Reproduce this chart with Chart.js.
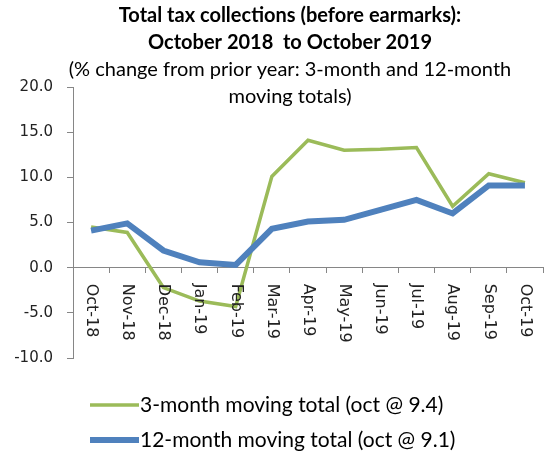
<!DOCTYPE html>
<html>
<head>
<meta charset="utf-8">
<script src="https://cdn.jsdelivr.net/npm/chart.js@4"></script>
<style>
  html, body { margin: 0; padding: 0; background: #fff; }
  #wrap { width: 548px; height: 458px; position: relative; }
</style>
</head>
<body>
<div id="wrap"><canvas id="taxChart"></canvas></div>
<script>
const months = ['Oct-18', 'Nov-18', 'Dec-18', 'Jan-19', 'Feb-19', 'Mar-19', 'Apr-19',
                'May-19', 'Jun-19', 'Jul-19', 'Aug-19', 'Sep-19', 'Oct-19'];
const threeMonth = [4.5, 3.9, -2.2, -3.7, -4.3, 10.1, 14.1, 13.0, 13.1, 13.3, 6.8, 10.4, 9.4];
const twelveMonth = [4.1, 4.9, 1.9, 0.6, 0.3, 4.3, 5.1, 5.3, 6.4, 7.5, 6.0, 9.1, 9.1];
const seriesNames = ['3-month moving total (oct @ 9.4)', '12-month moving total (oct @ 9.1)'];
const titleLines = ['Total tax collections (before earmarks):', 'October 2018  to October 2019'];
const subtitleLines = ['(% change from prior year: 3-month and 12-month', 'moving totals)'];

const TEXT_FONT = 'Lato, "Open Sans", sans-serif';
const AXIS_FONT = '"DejaVu Sans", Verdana, sans-serif';
const AXIS_GREY = '#868686';

// titles, month labels (reading downward) and the legend are painted by hand
const extras = {
  id: 'extras',
  afterDraw(chart) {
    const ctx = chart.ctx;
    const xs = chart.scales.x, ys = chart.scales.y;
    ctx.save();
    ctx.fillStyle = '#000';
    ctx.textAlign = 'center';
    ctx.textBaseline = 'middle';
    ctx.font = 'bold 20px ' + TEXT_FONT;
    titleLines.forEach((t, i) => ctx.fillText(t, 290, 16 + i * 27));
    ctx.font = '20px ' + TEXT_FONT;
    subtitleLines.forEach((t, i) => ctx.fillText(t, 290, 70 + i * 27));

    const zero = ys.getPixelForValue(0);
    ctx.font = '16px ' + AXIS_FONT;
    ctx.fillStyle = '#222';
    ctx.textAlign = 'left';
    months.forEach((m, i) => {
      ctx.save();
      ctx.translate(xs.getPixelForValue(i), zero + 16);
      ctx.rotate(Math.PI / 2);
      ctx.fillText(m, 0, 0);
      ctx.restore();
    });

    ctx.font = '21px ' + TEXT_FONT;
    ctx.fillStyle = '#000';
    chart.data.datasets.forEach((ds, i) => {
      const ly = 405 + i * 35;
      ctx.strokeStyle = ds.borderColor;
      ctx.lineWidth = ds.borderWidth;
      ctx.beginPath();
      ctx.moveTo(90, ly);
      ctx.lineTo(139, ly);
      ctx.stroke();
      ctx.fillText(ds.label, 140, ly);
    });
    ctx.restore();
  }
};

new Chart(document.getElementById('taxChart'), {
  type: 'line',
  data: {
    labels: months,
    datasets: [
      {
        label: seriesNames[0],
        data: threeMonth,
        borderColor: '#9BBB59',
        borderWidth: 3.5,
        pointRadius: 0,
        tension: 0,
        order: 1
      },
      {
        label: seriesNames[1],
        data: twelveMonth,
        borderColor: '#4F81BD',
        borderWidth: 6,
        pointRadius: 0,
        tension: 0,
        order: 0
      }
    ]
  },
  options: {
    responsive: true,
    maintainAspectRatio: false,
    animation: false,
    layout: { padding: { top: 87, right: 5, bottom: 100, left: 0 } },
    plugins: {
      legend: { display: false },
      title: { display: false },
      tooltip: { enabled: false }
    },
    scales: {
      x: {
        position: { y: 0 },
        offset: true,
        afterFit: s => { s.height = 0; },
        grid: {
          offset: true,
          drawOnChartArea: false,
          drawTicks: true,
          tickLength: 5,
          color: AXIS_GREY
        },
        border: { color: AXIS_GREY, width: 1 },
        ticks: { display: false }
      },
      y: {
        min: -10,
        max: 20,
        afterFit: s => { s.width = 73; },
        grid: {
          drawOnChartArea: false,
          drawTicks: true,
          tickLength: 6,
          color: AXIS_GREY
        },
        border: { color: AXIS_GREY, width: 1 },
        ticks: {
          stepSize: 5,
          padding: 14,
          color: '#222',
          font: { family: AXIS_FONT, size: 15 },
          callback: v => v.toFixed(1)
        }
      }
    }
  },
  plugins: [extras]
});
</script>
</body>
</html>
